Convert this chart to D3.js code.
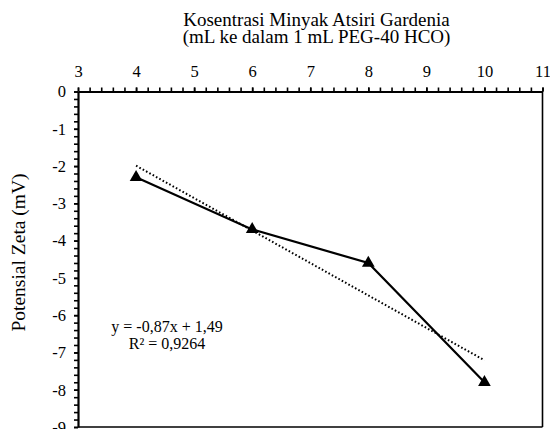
<!DOCTYPE html>
<html><head><meta charset="utf-8">
<script src="https://cdn.jsdelivr.net/npm/d3@7"></script>
<style>html,body{margin:0;padding:0;background:#fff;}svg{display:block;}</style>
</head><body>
<svg id="c" width="550" height="429"></svg>
<script>
const concentrations = [4, 6, 8, 10];
const zetaPotential = [-2.3, -3.7, -4.6, -7.8];
const xTicks = [3, 4, 5, 6, 7, 8, 9, 10, 11];
const yTicks = [0, -1, -2, -3, -4, -5, -6, -7, -8, -9];
const titleLines = ["Kosentrasi Minyak Atsiri Gardenia", "(mL ke dalam 1 mL PEG-40 HCO)"];
const yLabel = "Potensial Zeta (mV)";

const FONT = '"Liberation Serif", "Times New Roman", serif';
const svg = d3.select("#c");
const L = 78, R = 542.5, T = 91.5, B = 427;
const x = d3.scaleLinear().domain([3, 11]).range([L, R]);
const y = d3.scaleLinear().domain([0, -9]).range([T, B]);

// frame right/bottom
svg.append("line").attr("x1", R).attr("x2", R).attr("y1", T).attr("y2", B).attr("stroke", "#000").attr("stroke-width", 1.6);
svg.append("line").attr("x1", L).attr("x2", R).attr("y1", B).attr("y2", B).attr("stroke", "#000").attr("stroke-width", 1.6);

// minor ticks
const xMinor = d3.range(3, 11.0001, 0.2).map(v => +v.toFixed(2));
const yMinor = d3.range(0, -9.0001, -0.2).map(v => +v.toFixed(2));
svg.append("g").attr("transform", `translate(0,${T})`)
  .call(d3.axisTop(x).tickValues(xMinor).tickSize(4).tickFormat(""))
  .call(g => g.select(".domain").remove())
  .selectAll("line").attr("stroke-width", 1.6);
svg.append("g").attr("transform", `translate(${L},0)`)
  .call(d3.axisLeft(y).tickValues(yMinor).tickSize(4).tickFormat(""))
  .call(g => g.select(".domain").remove())
  .selectAll("line").attr("stroke-width", 1.6);

// major axes
const xa = svg.append("g").attr("transform", `translate(0,${T})`)
  .call(d3.axisTop(x).tickValues(xTicks).tickSize(4).tickSizeOuter(0).tickPadding(11).tickFormat(d3.format("d")));
const ya = svg.append("g").attr("transform", `translate(${L},0)`)
  .call(d3.axisLeft(y).tickValues(yTicks).tickSize(4).tickSizeOuter(0).tickPadding(8).tickFormat(d => d === 0 ? "0" : "-" + Math.abs(d)));
[xa, ya].forEach(g => {
  g.attr("font-family", null);
  g.select(".domain").attr("stroke-width", 2.2);
  g.selectAll(".tick line").attr("stroke-width", 1.6);
  g.selectAll("text").style("font-family", FONT).style("font-size", "16.5px").attr("fill", "#000");
});

// trendline (least squares)
const mx = d3.mean(concentrations), my = d3.mean(zetaPotential);
const slope = d3.sum(concentrations, (xi, i) => (xi - mx) * (zetaPotential[i] - my)) / d3.sum(concentrations, xi => (xi - mx) ** 2);
const intercept = my - slope * mx;
const ssTot = d3.sum(zetaPotential, v => (v - my) ** 2);
const ssRes = d3.sum(concentrations, (xi, i) => (zetaPotential[i] - (slope * xi + intercept)) ** 2);
const r2 = 1 - ssRes / ssTot;
const x0 = d3.min(concentrations), x1 = d3.max(concentrations);
svg.append("line")
  .attr("x1", x(x0)).attr("y1", y(slope * x0 + intercept))
  .attr("x2", x(x1)).attr("y2", y(slope * x1 + intercept))
  .attr("stroke", "#000").attr("stroke-width", 2).attr("stroke-dasharray", "1.6,2.2");

// data line
const pts = concentrations.map((c, i) => [c, zetaPotential[i]]);
svg.append("path").datum(pts)
  .attr("d", d3.line().x(d => x(d[0])).y(d => y(d[1])))
  .attr("fill", "none").attr("stroke", "#000").attr("stroke-width", 2.2);
svg.selectAll(".mk").data(pts).join("path")
  .attr("transform", d => `translate(${x(d[0])},${y(d[1])})`)
  .attr("d", d3.symbol(d3.symbolTriangle, 70)())
  .attr("fill", "#000");

// equation
const fmt = (v, k) => v.toFixed(k).replace(".", ",");
const eq = svg.append("text").style("font-family", FONT).style("font-size", "16px").attr("text-anchor", "middle").attr("fill", "#000");
eq.append("tspan").attr("x", 167).attr("y", 332)
  .text(`y = ${fmt(slope, 2)}x ${intercept >= 0 ? "+" : "-"} ${fmt(Math.abs(intercept), 2)}`);
eq.append("tspan").attr("x", 167).attr("y", 348.5).text(`R² = ${fmt(r2, 4)}`);

// titles
svg.append("text").style("font-family", FONT).style("font-size", "19px").attr("text-anchor", "middle").attr("fill", "#000")
  .selectAll("tspan").data(titleLines).join("tspan")
  .attr("x", 316.5).attr("y", (d, i) => 25.7 + i * 17.3).text(d => d);
svg.append("text").style("font-family", FONT).style("font-size", "19.5px").attr("text-anchor", "middle").attr("fill", "#000")
  .attr("transform", "translate(25,252.5) rotate(-90)").text(yLabel);
</script>
</body></html>
